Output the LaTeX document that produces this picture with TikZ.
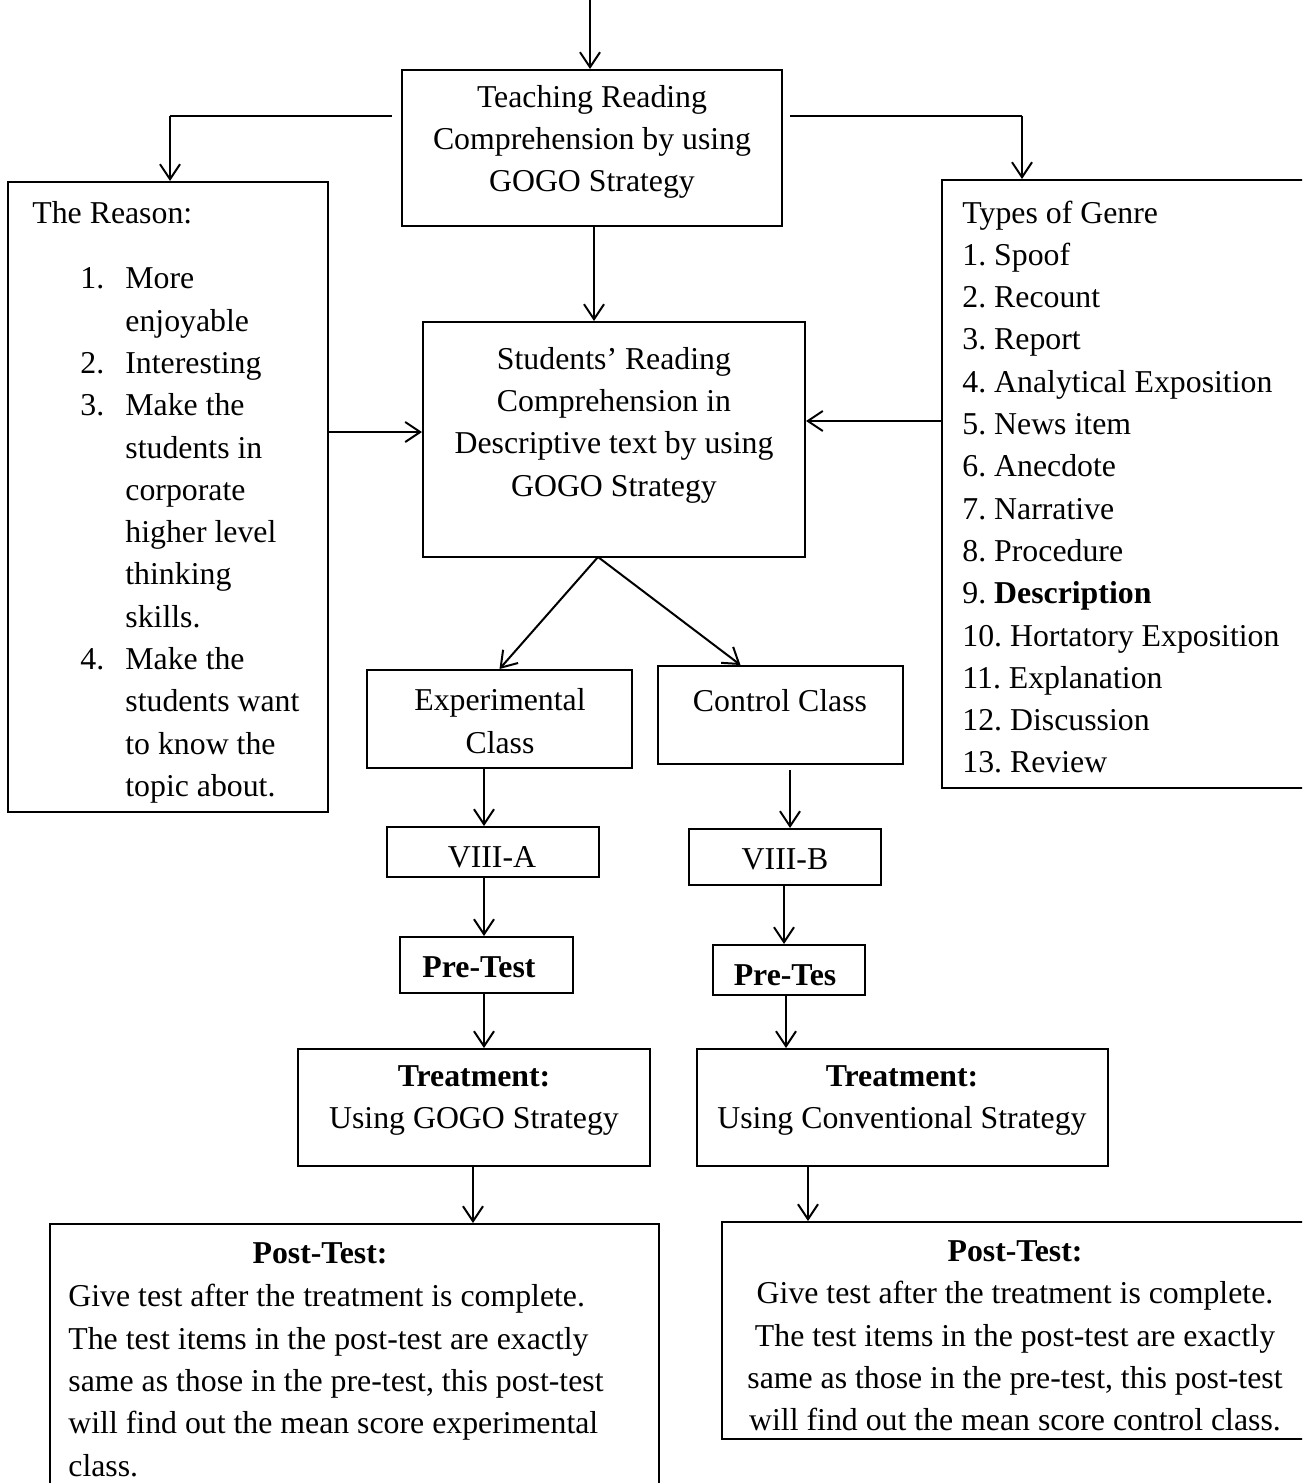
\documentclass[tikz,border=0pt]{standalone}
\usepackage{fontspec}
\setmainfont{Liberation Serif}
\usetikzlibrary{arrows.meta,fit}
\frenchspacing
\begin{document}
\begin{tikzpicture}[x=0.5pt,y=-0.5pt,
  box/.style={draw,line width=1pt,inner sep=0pt},
  txt/.style={inner sep=0pt,font=\fontsize{15.9}{21.15}\selectfont},
  arr/.style={line width=1pt,-{Straight Barb[length=7.5pt,width=10pt]}},
  ln/.style={line width=1pt}]
\useasboundingbox (0,0) rectangle (1302,1483);
\clip (0,0) rectangle (1302,1483);
% boxes
\node[box,fit={(402,70)(782,226)}] (teach) {};
\node[box,fit={(8,182)(328,812)}] (reason) {};
\node[box,fit={(942,180)(1312,788)}] (genre) {};
\node[box,fit={(423,322)(805,557)}] (stud) {};
\node[box,fit={(367,670)(632,768)}] (exp) {};
\node[box,fit={(658,666)(903,764)}] (ctrl) {};
\node[box,fit={(387,827)(599,877)}] (va) {};
\node[box,fit={(689,829)(881,885)}] (vb) {};
\node[box,fit={(400,937)(573,993)}] (pa) {};
\node[box,fit={(713,945)(865,995)}] (pb) {};
\node[box,fit={(298,1049)(650,1166)}] (ta) {};
\node[box,fit={(697,1049)(1108,1166)}] (tb) {};
\node[box,fit={(50,1224)(659,1495)}] (posta) {};
\node[box,fit={(722,1222)(1312,1439)}] (postb) {};
% texts
\node[txt,align=center] (teacht) at (592,142) {Teaching Reading\\Comprehension by using\\GOGO Strategy};
\node[txt,align=center] (studt) at (614,425) {Students’ Reading\\Comprehension in\\Descriptive text by using\\GOGO Strategy};
\node[txt,anchor=west] (reasonh) at (32,213) {The Reason:};
\node[txt,anchor=west,align=left] (reasonl) at (80,535.5) {%
\makebox[22.5pt][l]{1.}More\\
\hspace*{22.5pt}enjoyable\\
\makebox[22.5pt][l]{2.}Interesting\\
\makebox[22.5pt][l]{3.}Make the\\
\hspace*{22.5pt}students in\\
\hspace*{22.5pt}corporate\\
\hspace*{22.5pt}higher level\\
\hspace*{22.5pt}thinking\\
\hspace*{22.5pt}skills.\\
\makebox[22.5pt][l]{4.}Make the\\
\hspace*{22.5pt}students want\\
\hspace*{22.5pt}to know the\\
\hspace*{22.5pt}topic about.};
\node[txt,anchor=west,align=left] (genret) at (962,487) {Types of Genre\\1. Spoof\\2. Recount\\3. Report\\4. Analytical Exposition\\5. News item\\6. Anecdote\\7. Narrative\\8. Procedure\\9. \textbf{Description}\\10. Hortatory Exposition\\11. Explanation\\12. Discussion\\13. Review};
\node[txt,align=center] (expt) at (500,721) {Experimental\\Class};
\node[txt] (ctrlt) at (780,701) {Control Class};
\node[txt] (vat) at (492,857) {VIII-A};
\node[txt] (vbt) at (785,859) {VIII-B};
\node[txt,font=\fontsize{15.9}{21.15}\selectfont\bfseries] (pat) at (479,967) {Pre-Test};
\node[txt,font=\fontsize{15.9}{21.15}\selectfont\bfseries] (pbt) at (785,975) {Pre-Tes};
\node[txt,align=center] (tat) at (474,1100.5) {\textbf{Treatment:}\\Using GOGO Strategy};
\node[txt,align=center] (tbt) at (902,1100.5) {\textbf{Treatment:}\\Using Conventional Strategy};
\node[txt,font=\fontsize{15.9}{21.15}\selectfont\bfseries] (postah) at (320,1253) {Post-Test:};
\node[txt,anchor=west,align=left] (postat) at (68,1380.5) {Give test after the treatment is complete.\\The test items in the post-test are exactly\\same as those in the pre-test, this post-test\\will find out the mean score experimental\\class.};
\node[txt,align=center] (postbt) at (1015,1336) {\textbf{Post-Test:}\\Give test after the treatment is complete.\\The test items in the post-test are exactly\\same as those in the pre-test, this post-test\\will find out the mean score control class.};
% connectors
\coordinate (top) at (590,0);
\draw[arr] (top) -- (top |- teach.north);
\coordinate (lb) at (392,116);
\coordinate (lc) at (170,116);
\draw[ln] (lb) -- (lc);
\draw[arr] (lc) -- (lc |- reason.north);
\coordinate (rb) at (790,116);
\coordinate (rc) at (1022,116);
\draw[ln] (rb) -- (rc);
\draw[arr] (rc) -- (rc |- genre.north);
\coordinate (tsb) at (594,226);
\draw[arr] (tsb) -- (tsb |- stud.north);
\coordinate (ra) at (328,432);
\draw[arr] (ra) -- (ra -| stud.west);
\coordinate (ga) at (942,421);
\draw[arr] (ga) -- (ga -| stud.east);
\coordinate (sb) at (598,557);
\draw[arr] (sb) -- (exp.north);
\draw[arr] (sb) -- ([xshift=-20pt]ctrl.north);
\coordinate (c1) at (484,768);
\draw[arr] (c1) -- (c1 |- va.north);
\coordinate (c2) at (790,770);
\draw[arr] (c2) -- (c2 |- vb.north);
\coordinate (c3) at (484,877);
\draw[arr] (c3) -- (c3 |- pa.north);
\coordinate (c4) at (784,885);
\draw[arr] (c4) -- (c4 |- pb.north);
\coordinate (c5) at (484,993);
\draw[arr] (c5) -- (c5 |- ta.north);
\coordinate (c6) at (786,995);
\draw[arr] (c6) -- (c6 |- tb.north);
\coordinate (c7) at (473,1166);
\draw[arr] (c7) -- (c7 |- posta.north);
\coordinate (c8) at (808,1166);
\draw[arr] (c8) -- (c8 |- postb.north);
\end{tikzpicture}
\end{document}
